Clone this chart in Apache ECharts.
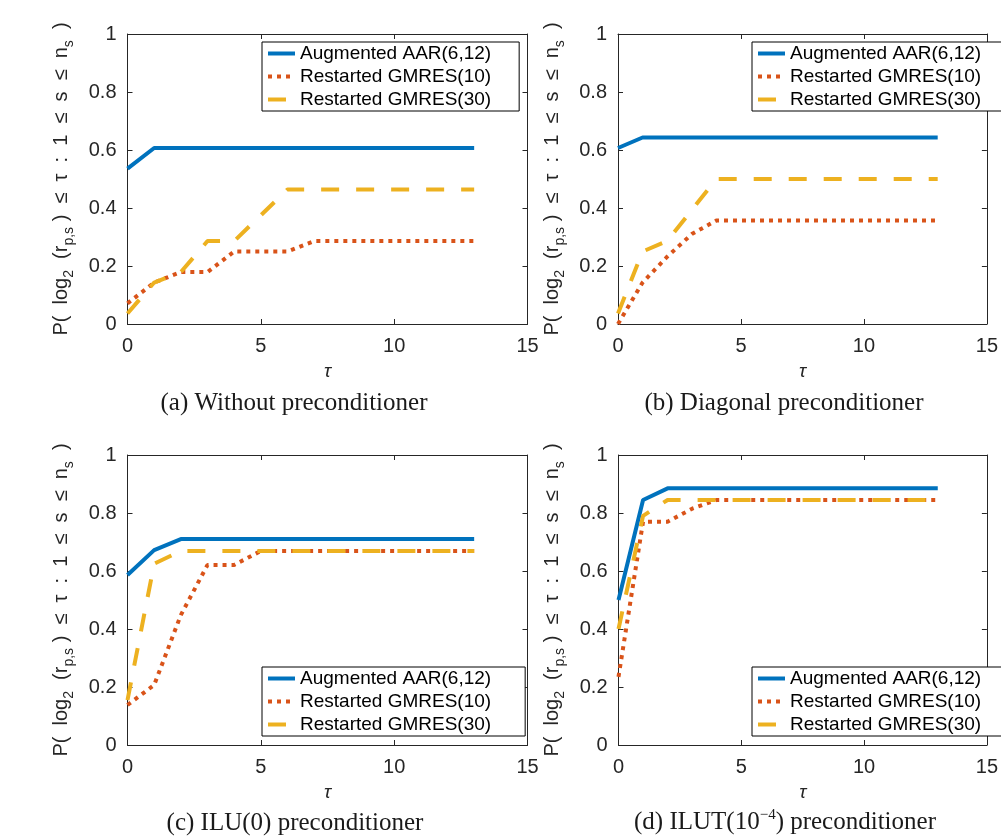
<!DOCTYPE html>
<html>
<head>
<meta charset="utf-8">
<script src="https://cdn.jsdelivr.net/npm/echarts@6/dist/echarts.min.js"></script>
<style>
  html, body { margin: 0; padding: 0; background: #fff; }
  #chart { width: 1001px; height: 840px; }
</style>
</head>
<body>
<div id="chart"></div>
<script>
// tau values (x axis) shared by all four profiles
var tau = [0, 1, 2, 3, 4, 5, 6, 7, 8, 9, 10, 11, 12, 13];
var seriesNames = ['Augmented AAR(6,12)', 'Restarted GMRES(10)', 'Restarted GMRES(30)'];
var xTicks = [0, 5, 10, 15];
var yTicks = [0, 0.2, 0.4, 0.6, 0.8, 1];

// (a) without preconditioner
var aAAR = [0.536, 0.607, 0.607, 0.607, 0.607, 0.607, 0.607, 0.607, 0.607, 0.607, 0.607, 0.607, 0.607, 0.607];
var aG10 = [0.071, 0.143, 0.179, 0.179, 0.25, 0.25, 0.25, 0.286, 0.286, 0.286, 0.286, 0.286, 0.286, 0.286];
var aG30 = [0.036, 0.143, 0.179, 0.286, 0.286, 0.375, 0.464, 0.464, 0.464, 0.464, 0.464, 0.464, 0.464, 0.464];
// (b) diagonal
var bAAR = [0.607, 0.643, 0.643, 0.643, 0.643, 0.643, 0.643, 0.643, 0.643, 0.643, 0.643, 0.643, 0.643, 0.643];
var bG10 = [0, 0.143, 0.232, 0.31, 0.357, 0.357, 0.357, 0.357, 0.357, 0.357, 0.357, 0.357, 0.357, 0.357];
var bG30 = [0.036, 0.25, 0.286, 0.393, 0.5, 0.5, 0.5, 0.5, 0.5, 0.5, 0.5, 0.5, 0.5, 0.5];
// (c) ILU(0)
var cAAR = [0.586, 0.672, 0.71, 0.71, 0.71, 0.71, 0.71, 0.71, 0.71, 0.71, 0.71, 0.71, 0.71, 0.71];
var cG10 = [0.138, 0.207, 0.448, 0.621, 0.621, 0.669, 0.669, 0.669, 0.669, 0.669, 0.669, 0.669, 0.669, 0.669];
var cG30 = [0.155, 0.625, 0.669, 0.669, 0.669, 0.669, 0.669, 0.669, 0.669, 0.669, 0.669, 0.669, 0.669, 0.669];
// (d) ILUT(1e-4)
var dAAR = [0.5, 0.845, 0.885, 0.885, 0.885, 0.885, 0.885, 0.885, 0.885, 0.885, 0.885, 0.885, 0.885, 0.885];
var dG10 = [0.235, 0.77, 0.77, 0.815, 0.845, 0.845, 0.845, 0.845, 0.845, 0.845, 0.845, 0.845, 0.845, 0.845];
var dG30 = [0.4, 0.79, 0.845, 0.845, 0.845, 0.845, 0.845, 0.845, 0.845, 0.845, 0.845, 0.845, 0.845, 0.845];

var panels = [
    {data: [aAAR, aG10, aG30], grid: {left: 127.5, top: 34}, legend: {left: 262, top: 42, right: 28}, caption: {x: 294, y: 403}},
    {data: [bAAR, bG10, bG30], grid: {left: 618, top: 34}, legend: {left: 752, top: 42, right: 28}, caption: {x: 784, y: 403}},
    {data: [cAAR, cG10, cG30], grid: {left: 127.5, top: 455}, legend: {left: 262, top: 667, right: 34}, caption: {x: 295, y: 823}},
    {data: [dAAR, dG10, dG30], grid: {left: 618.5, top: 455}, legend: {left: 752, top: 667, right: 28}, caption: {x: 785, y: 822}}
];
var captions = [
    '{n|(a) Without preconditioner}',
    '{n|(b) Diagonal preconditioner}',
    '{n|(c) ILU(0) preconditioner}',
    '{n|(d) ILUT(10}{sup|−4}{n|) preconditioner}'
];

var colors = ['#0072BD', '#D95319', '#EDB120'];
var dashes = ['solid', [4, 5], [18, 17]];
var sans = '"Liberation Sans", Arial, "DejaVu Sans", sans-serif';
var serif = '"Liberation Serif", "DejaVu Serif", serif';
var axisColor = '#262626';

var myChart = echarts.init(document.getElementById('chart'));

var grids = [], xAxes = [], yAxes = [], series = [], legends = [], graphics = [];

panels.forEach(function (p, k) {
    grids.push({left: p.grid.left, top: p.grid.top, width: 400, height: 290});

    // bottom / left axes with labels
    xAxes.push({
        gridIndex: k, type: 'value', min: xTicks[0], max: xTicks[xTicks.length - 1], interval: 5,
        position: 'bottom',
        name: 'τ', nameLocation: 'middle', nameGap: 38,
        nameTextStyle: {fontFamily: sans, fontSize: 19, fontStyle: 'italic', color: axisColor},
        axisLine: {show: true, onZero: false, lineStyle: {color: axisColor, width: 1}},
        axisTick: {show: true, inside: true, length: 5, lineStyle: {color: axisColor}},
        axisLabel: {fontFamily: sans, fontSize: 20, color: axisColor, margin: 12},
        splitLine: {show: false}
    });
    yAxes.push({
        gridIndex: k, type: 'value', min: yTicks[0], max: yTicks[yTicks.length - 1], interval: 0.2,
        position: 'left',
        name: '{t|P(  log}{s|2}{t|  (r}{s|p,s}{t| )  ≤  τ  :  1  ≤  s  ≤  n}{s|s}{t|  )}',
        nameLocation: 'middle', nameRotate: 90, nameGap: 51,
        nameTextStyle: {
            color: axisColor,
            rich: {
                t: {fontFamily: sans, fontSize: 20, lineHeight: 30, color: axisColor},
                s: {fontFamily: sans, fontSize: 14, lineHeight: 30, verticalAlign: 'bottom', color: axisColor}
            }
        },
        axisLine: {show: true, onZero: false, lineStyle: {color: axisColor, width: 1}},
        axisTick: {show: true, inside: true, length: 5, lineStyle: {color: axisColor}},
        axisLabel: {fontFamily: sans, fontSize: 20, color: axisColor, margin: 11},
        splitLine: {show: false}
    });

    p.data.forEach(function (arr, j) {
        series.push({
            name: seriesNames[j],
            type: 'line',
            xAxisIndex: k, yAxisIndex: k,
            symbol: 'none', showSymbol: false,
            lineStyle: {color: colors[j], width: 4, type: dashes[j], cap: 'butt'},
            itemStyle: {color: colors[j]},
            z: 3 + j,
            data: tau.map(function (t, i) { return [t, arr[i]]; })
        });
    });

    legends.push({
        data: seriesNames,
        orient: 'vertical',
        left: p.legend.left, top: p.legend.top,
        padding: [2, p.legend.right, 2, 4],
        itemGap: 4, itemWidth: 27, itemHeight: 14,
        backgroundColor: '#fff',
        borderColor: '#000', borderWidth: 1, borderRadius: 0,
        selectedMode: false,
        itemStyle: {opacity: 0},
        lineStyle: {width: 4},
        textStyle: {fontFamily: sans, fontSize: 19, lineHeight: 19, color: '#000'},
        z: 10
    });

    graphics.push({
        type: 'text', x: p.caption.x, y: p.caption.y,
        style: {
            text: captions[k],
            align: 'center', verticalAlign: 'middle',
            rich: {
                n: {fontFamily: serif, fontSize: 25, lineHeight: 28, fill: '#1a1a1a'},
                sup: {fontFamily: serif, fontSize: 15, lineHeight: 28, verticalAlign: 'top', fill: '#1a1a1a'}
            }
        }
    });
});

// top / right axes: box outline with inward ticks, no labels
panels.forEach(function (p, k) {
    xAxes.push({
        gridIndex: k, type: 'value', min: 0, max: 15, interval: 5, position: 'top',
        axisLine: {show: true, onZero: false, lineStyle: {color: axisColor, width: 1}},
        axisTick: {show: true, inside: true, length: 5, lineStyle: {color: axisColor}},
        axisLabel: {show: false}, splitLine: {show: false}
    });
    yAxes.push({
        gridIndex: k, type: 'value', min: 0, max: 1, interval: 0.2, position: 'right',
        axisLine: {show: true, onZero: false, lineStyle: {color: axisColor, width: 1}},
        axisTick: {show: true, inside: true, length: 5, lineStyle: {color: axisColor}},
        axisLabel: {show: false}, splitLine: {show: false}
    });
});

myChart.setOption({
    animation: false,
    backgroundColor: '#fff',
    grid: grids,
    xAxis: xAxes,
    yAxis: yAxes,
    legend: legends,
    series: series,
    graphic: graphics
});
</script>
</body>
</html>
